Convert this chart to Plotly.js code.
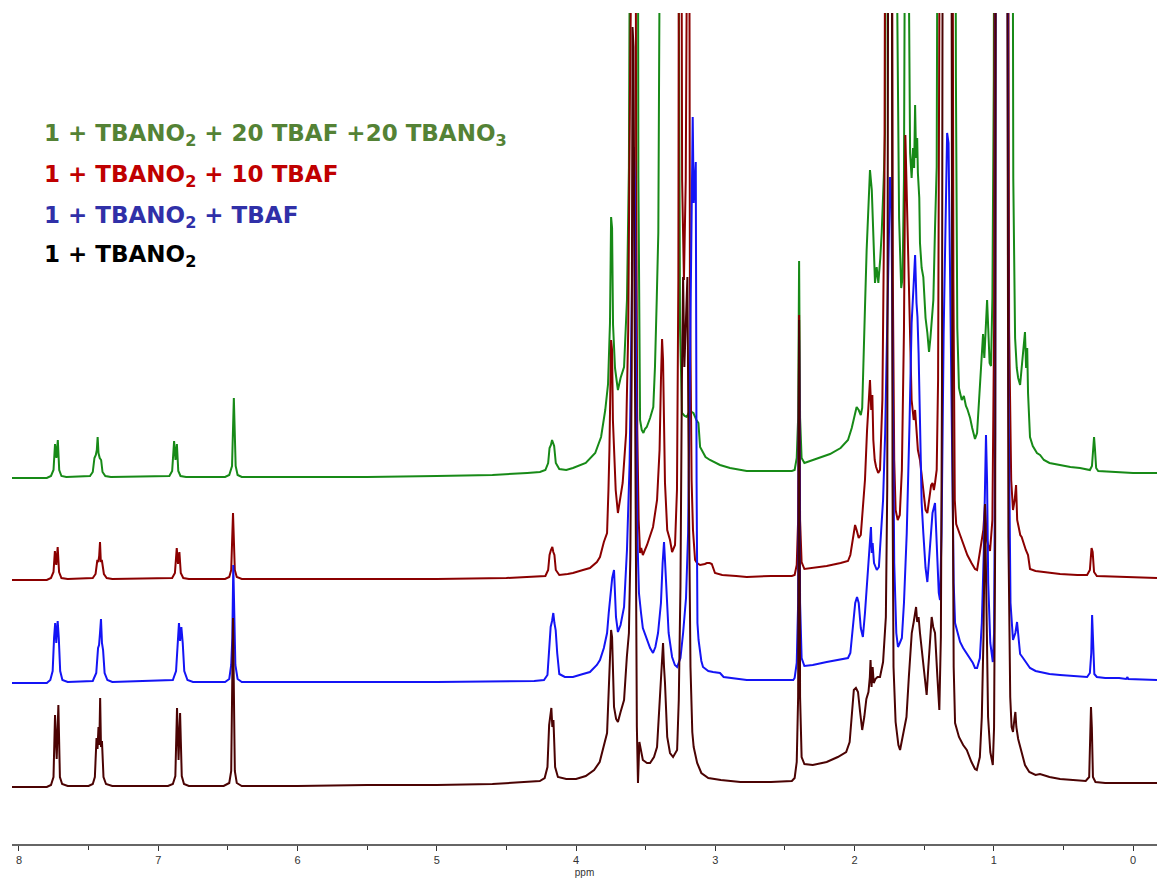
<!DOCTYPE html>
<html>
<head>
<meta charset="utf-8">
<script src="https://cdn.plot.ly/plotly-3.0.1.min.js"></script>
<style>
  html, body { margin: 0; padding: 0; background: #ffffff; }
  #chart { width: 1157px; height: 882px; }
</style>
</head>
<body>
<div id="chart"></div>
<script>
// ---------------- DATA (ppm, intensity above each trace's own baseline) ----------------
const seriesNames = [
  "1 + TBANO<sub>2</sub> + 20 TBAF +20 TBANO<sub>3</sub>",
  "1 + TBANO<sub>2</sub> + 10 TBAF",
  "1 + TBANO<sub>2</sub> + TBAF",
  "1 + TBANO<sub>2</sub>"
];

const xTickValues = [8, 7, 6, 5, 4, 3, 2, 1, 0];
const xAxisLabel = "ppm";

// 1 + TBANO2 + 20 TBAF + 20 TBANO3 (green, top)
const spectrumGreen = [
[8.05,0],[7.80,0],[7.77,2],[7.752,8],[7.741,34],[7.731,20],[7.721,38],[7.711,8],[7.695,2],[7.66,1],
[7.49,2],[7.47,6],[7.458,20],[7.448,23],[7.441,28],[7.435,41],[7.429,25],[7.42,20],[7.41,18],[7.40,6],[7.38,2],[7.34,1],
[6.92,2],[6.90,7],[6.886,37],[6.876,18],[6.866,34],[6.856,7],[6.84,2],[6.80,1],
[6.52,1],[6.49,3],[6.47,12],[6.457,80],[6.444,12],[6.43,3],[6.40,1],
[6.0,1],[5.5,1],[5.0,2],[4.6,3],[4.35,5],[4.259,6],[4.22,8],[4.20,15],[4.19,30],[4.18,33],[4.172,38],[4.165,35],[4.157,32],[4.145,15],[4.12,9],[4.07,8],[4.022,10],[3.93,15],[3.862,25],[3.82,41],[3.79,68],[3.77,94],[3.756,155],[3.748,261],[3.741,250],[3.734,153],[3.72,110],[3.706,95],[3.699,88],[3.68,100],[3.655,111],[3.634,178],[3.62,311],[3.612,600],[3.605,1000],[3.56,1000],[3.552,300],[3.54,58],[3.528,48],[3.516,45],[3.505,49],[3.492,51],[3.468,60],[3.445,71],[3.433,111],[3.42,180],[3.409,245],[3.40,500],[3.39,1000],[3.275,1000],[3.262,400],[3.253,150],[3.239,65],[3.22,62],[3.205,61],[3.19,66],[3.181,68],[3.169,66],[3.157,65],[3.135,58],[3.121,55],[3.109,31],[3.07,21],[3.038,18],[2.966,13],[2.894,10],[2.774,7],[2.6,7],[2.45,7],
[2.43,8],[2.415,20],[2.405,60],[2.398,217],[2.391,60],[2.38,20],[2.36,15],[2.30,18],[2.176,24],[2.10,30],[2.047,38],[2.02,50],[2.0,62],[1.985,71],[1.97,68],[1.955,63],[1.945,70],[1.935,111],[1.925,170],[1.913,228],[1.90,280],[1.889,308],[1.876,288],[1.865,245],[1.853,195],[1.841,211],[1.829,195],[1.815,220],[1.805,245],[1.79,300],[1.781,345],[1.774,600],[1.769,1000],[1.705,1000],[1.695,500],[1.68,260],[1.665,190],[1.655,200],[1.645,300],[1.637,600],[1.63,1000],[1.616,1000],[1.61,500],[1.601,325],[1.59,300],[1.58,330],[1.572,310],[1.565,373],[1.558,320],[1.55,340],[1.545,305],[1.535,280],[1.53,235],[1.518,210],[1.506,201],[1.49,160],[1.477,145],[1.465,126],[1.455,140],[1.445,160],[1.434,178],[1.422,250],[1.41,311],[1.404,600],[1.398,1000],[1.28,1000],[1.272,400],[1.262,150],[1.25,90],[1.242,85],[1.23,78],[1.215,82],[1.2,72],[1.19,69],[1.17,60],[1.155,50],[1.14,42],[1.135,39],[1.12,45],[1.11,70],[1.099,93],[1.09,110],[1.077,144],[1.068,120],[1.06,150],[1.048,178],[1.04,150],[1.03,115],[1.02,112],[1.01,180],[1.0,400],[0.993,1000],[0.87,1000],[0.86,300],[0.847,140],[0.835,110],[0.825,100],[0.811,93],[0.80,110],[0.79,125],[0.782,135],[0.776,146],[0.768,110],[0.76,130],[0.754,85],[0.745,60],[0.74,41],[0.72,32],[0.69,25],[0.668,23],[0.64,18],[0.60,15],[0.524,13],[0.45,11],[0.381,10],[0.31,8],[0.295,12],[0.285,35],[0.280,41],[0.274,30],[0.265,10],[0.25,7],[0.1,6],[0.0,5],[-0.172,5]
];

// 1 + TBANO2 + 10 TBAF (red)
const spectrumRed = [
[8.05,0],[7.80,0],[7.77,2],[7.752,8],[7.742,29],[7.732,15],[7.722,33],[7.712,8],[7.695,2],[7.65,1],
[7.47,2],[7.45,6],[7.437,20],[7.43,18],[7.424,24],[7.418,38],[7.412,18],[7.405,20],[7.39,6],[7.37,2],[7.33,1],
[6.90,2],[6.88,7],[6.867,32],[6.858,16],[6.848,28],[6.838,7],[6.82,2],[6.78,1],
[6.52,1],[6.49,3],[6.476,10],[6.463,67],[6.450,10],[6.436,3],[6.40,1],
[6.0,1],[5.0,1],[4.5,2],[4.3,3],[4.22,4],[4.20,10],[4.19,25],[4.18,30],[4.17,33],[4.163,28],[4.155,25],[4.145,10],[4.12,5],[4.06,6],[4.022,7],[3.95,10],[3.90,12],[3.85,18],[3.828,23],[3.80,38],[3.777,47],[3.767,90],[3.760,130],[3.748,240],[3.741,230],[3.735,160],[3.727,130],[3.715,90],[3.699,67],[3.685,80],[3.665,97],[3.64,147],[3.625,250],[3.612,500],[3.605,1000],[3.575,1000],[3.568,400],[3.56,150],[3.55,60],[3.54,27],[3.532,32],[3.52,25],[3.49,35],[3.468,45],[3.447,53],[3.418,80],[3.40,130],[3.39,200],[3.382,241],[3.375,220],[3.361,97],[3.345,50],[3.325,40],[3.31,28],[3.289,35],[3.275,90],[3.265,300],[3.258,1000],[3.248,1000],[3.238,400],[3.225,300],[3.212,400],[3.203,1000],[3.190,1000],[3.182,300],[3.17,100],[3.16,50],[3.145,20],[3.131,17],[3.109,15],[3.075,16],[3.06,17],[3.04,17],[3.025,16],[3.002,7],[2.95,5],[2.85,4],[2.774,3],[2.6,4],[2.45,4],
[2.43,5],[2.415,15],[2.405,60],[2.398,265],[2.391,60],[2.38,18],[2.36,11],[2.3,12],[2.2,14],[2.1,17],[2.047,19],[2.03,25],[2.01,45],[1.996,55],[1.985,50],[1.97,42],[1.955,45],[1.94,73],[1.925,100],[1.91,150],[1.895,180],[1.889,200],[1.88,170],[1.872,185],[1.865,140],[1.855,120],[1.845,113],[1.83,107],[1.817,110],[1.80,180],[1.785,400],[1.775,1000],[1.735,1000],[1.725,300],[1.715,120],[1.705,70],[1.69,60],[1.675,65],[1.66,110],[1.645,250],[1.635,445],[1.628,400],[1.62,340],[1.612,300],[1.60,230],[1.59,180],[1.575,160],[1.565,170],[1.555,150],[1.545,130],[1.53,120],[1.515,100],[1.506,87],[1.49,70],[1.477,67],[1.465,80],[1.45,95],[1.44,97],[1.43,90],[1.422,97],[1.41,110],[1.40,200],[1.39,500],[1.38,1000],[1.30,1000],[1.29,300],[1.28,80],[1.27,56],[1.242,45],[1.22,37],[1.19,25],[1.16,17],[1.135,11],[1.12,10],[1.10,30],[1.085,40],[1.075,50],[1.063,76],[1.05,40],[1.04,35],[1.027,29],[1.01,60],[0.998,250],[0.99,1000],[0.90,1000],[0.89,250],[0.875,100],[0.862,70],[0.85,80],[0.84,95],[0.832,60],[0.82,52],[0.81,45],[0.80,43],[0.79,38],[0.78,35],[0.77,30],[0.754,25],[0.74,11],[0.70,9],[0.65,8],[0.524,6],[0.40,5],[0.33,5],[0.31,10],[0.298,32],[0.29,28],[0.28,8],[0.26,4],[0.1,3],[0.0,3],[-0.172,2]
];

// 1 + TBANO2 + TBAF (blue)
const spectrumBlue = [
[8.05,0],[7.80,0],[7.775,3],[7.758,12],[7.748,45],[7.740,60],[7.732,40],[7.722,62],[7.714,45],[7.704,12],[7.688,3],[7.65,1],
[7.47,2],[7.445,10],[7.432,35],[7.425,38],[7.418,50],[7.411,64],[7.404,40],[7.396,33],[7.385,10],[7.365,3],[7.33,1],
[6.895,3],[6.872,12],[6.860,40],[6.851,60],[6.843,42],[6.834,56],[6.824,40],[6.813,12],[6.79,3],[6.75,1],
[6.52,1],[6.49,4],[6.476,18],[6.468,45],[6.461,118],[6.454,45],[6.446,18],[6.43,4],[6.40,1],
[6.0,1],[5.0,1],[4.3,2],[4.23,3],[4.205,8],[4.192,30],[4.182,56],[4.172,62],[4.163,70],[4.155,60],[4.146,53],[4.135,30],[4.12,9],[4.08,6],[4.022,6],[3.95,9],[3.90,11],[3.85,18],[3.828,23],[3.80,35],[3.777,50],[3.765,70],[3.756,83],[3.74,105],[3.727,113],[3.72,95],[3.713,66],[3.699,51],[3.68,58],[3.655,76],[3.634,133],[3.615,220],[3.60,380],[3.585,536],[3.578,500],[3.57,300],[3.56,150],[3.548,90],[3.54,76],[3.533,70],[3.52,55],[3.49,43],[3.468,35],[3.447,30],[3.43,36],[3.411,50],[3.39,80],[3.378,120],[3.368,141],[3.36,120],[3.35,96],[3.335,50],[3.31,26],[3.29,18],[3.274,16],[3.25,25],[3.231,50],[3.21,85],[3.195,150],[3.18,330],[3.17,480],[3.162,566],[3.155,480],[3.148,500],[3.140,521],[3.134,200],[3.128,60],[3.12,43],[3.10,22],[3.088,16],[3.05,12],[3.016,11],[2.966,10],[2.94,6],[2.85,4],[2.774,3],[2.6,3],[2.44,3],
[2.43,5],[2.415,20],[2.405,80],[2.398,343],[2.391,80],[2.38,25],[2.36,17],[2.3,18],[2.2,21],[2.1,24],[2.047,25],[2.03,30],[2.01,55],[1.995,80],[1.982,86],[1.97,80],[1.955,55],[1.94,46],[1.925,70],[1.905,110],[1.89,130],[1.882,156],[1.876,130],[1.87,140],[1.86,120],[1.84,113],[1.825,116],[1.81,150],[1.795,183],[1.78,250],[1.768,350],[1.757,450],[1.745,506],[1.735,480],[1.725,300],[1.715,120],[1.70,50],[1.688,36],[1.675,40],[1.66,45],[1.645,80],[1.625,150],[1.605,260],[1.59,360],[1.575,400],[1.565,428],[1.555,380],[1.548,366],[1.540,330],[1.530,240],[1.518,180],[1.506,150],[1.49,115],[1.477,101],[1.46,130],[1.44,170],[1.422,180],[1.41,140],[1.395,90],[1.386,83],[1.375,150],[1.36,350],[1.345,500],[1.335,550],[1.325,540],[1.315,420],[1.30,200],[1.288,100],[1.278,60],[1.26,50],[1.242,41],[1.22,35],[1.19,29],[1.15,20],[1.135,15],[1.12,15],[1.10,25],[1.086,60],[1.072,130],[1.063,200],[1.056,248],[1.048,200],[1.04,100],[1.025,40],[1.007,21],[0.998,50],[0.99,250],[0.984,1000],[0.905,1000],[0.895,300],[0.88,80],[0.862,43],[0.845,50],[0.833,61],[0.822,40],[0.811,29],[0.79,25],[0.776,22],[0.74,15],[0.70,12],[0.668,11],[0.60,9],[0.524,8],[0.45,7],[0.38,6],[0.33,6],[0.31,10],[0.30,30],[0.294,68],[0.287,30],[0.278,9],[0.26,6],[0.2,5],[0.10,5],[0.05,4],[0.04,6],[0.035,4],[-0.172,3]
];

// 1 + TBANO2 (dark brown, bottom)
const spectrumDark = [
[8.05,0],[7.80,0],[7.77,2],[7.752,10],[7.741,72],[7.729,28],[7.717,82],[7.706,10],[7.69,3],[7.65,1],
[7.50,1],[7.47,3],[7.455,10],[7.443,49],[7.436,38],[7.429,60],[7.423,42],[7.417,89],[7.411,40],[7.404,46],[7.393,10],[7.375,3],[7.33,1],
[6.93,1],[6.895,3],[6.877,11],[6.865,79],[6.854,27],[6.843,74],[6.831,11],[6.815,3],[6.78,1],
[6.53,1],[6.49,4],[6.476,16],[6.463,169],[6.450,16],[6.436,4],[6.40,1],
[6.0,1],[5.5,2],[5.0,2],[4.6,3],[4.35,5],[4.26,6],[4.225,9],[4.205,20],[4.193,62],[4.186,70],[4.177,79],[4.170,60],[4.162,67],[4.150,20],[4.13,10],[4.07,8],[4.0,8],[3.93,11],[3.87,17],[3.83,25],[3.80,42],[3.777,54],[3.763,104],[3.748,157],[3.741,150],[3.733,110],[3.727,80],[3.712,68],[3.699,65],[3.68,75],[3.655,87],[3.635,130],[3.620,154],[3.61,230],[3.60,420],[3.594,760],[3.587,740],[3.58,500],[3.572,200],[3.563,60],[3.555,4],[3.545,45],[3.52,27],[3.49,24],[3.468,24],[3.44,30],[3.418,40],[3.397,87],[3.385,120],[3.375,144],[3.368,120],[3.361,104],[3.345,50],[3.325,34],[3.303,30],[3.274,37],[3.262,87],[3.25,200],[3.240,400],[3.231,510],[3.222,420],[3.212,470],[3.200,510],[3.190,300],[3.178,120],[3.165,55],[3.155,40],[3.13,24],[3.10,14],[3.05,9],[2.96,7],[2.82,5],[2.6,5],[2.45,6],
[2.43,9],[2.415,25],[2.405,90],[2.398,467],[2.391,90],[2.38,30],[2.36,23],[2.3,22],[2.2,25],[2.12,30],[2.06,35],[2.035,45],[2.015,85],[2.005,97],[1.99,99],[1.975,95],[1.96,75],[1.945,57],[1.93,70],[1.915,88],[1.90,95],[1.89,110],[1.885,127],[1.878,100],[1.87,120],[1.862,104],[1.85,108],[1.835,110],[1.817,110],[1.795,125],[1.775,170],[1.765,300],[1.757,1000],[1.733,1000],[1.727,300],[1.72,120],[1.705,65],[1.685,42],[1.673,37],[1.655,50],[1.627,70],[1.61,110],[1.589,154],[1.575,165],[1.565,175],[1.558,180],[1.55,165],[1.540,170],[1.530,154],[1.506,120],[1.49,100],[1.482,92],[1.47,120],[1.455,160],[1.446,170],[1.435,160],[1.422,154],[1.405,110],[1.391,77],[1.380,150],[1.372,400],[1.366,1000],[1.305,1000],[1.298,400],[1.288,120],[1.278,64],[1.25,50],[1.22,42],[1.194,37],[1.16,25],[1.135,18],[1.122,17],[1.10,30],[1.086,70],[1.074,150],[1.063,283],[1.052,150],[1.041,70],[1.025,35],[1.007,22],[0.998,60],[0.99,250],[0.985,1000],[0.905,1000],[0.895,250],[0.882,90],[0.872,60],[0.862,55],[0.852,68],[0.845,75],[0.838,60],[0.825,48],[0.81,40],[0.79,28],[0.776,22],[0.745,15],[0.70,12],[0.668,13],[0.60,10],[0.524,8],[0.45,7],[0.38,6],[0.34,6],[0.315,10],[0.302,80],[0.296,60],[0.288,10],[0.27,5],[0.2,4],[0.1,4],[0.0,4],[-0.172,4]
];

// ---------------- STYLE / LAYOUT ----------------
const spectra = [spectrumGreen, spectrumRed, spectrumBlue, spectrumDark];
const lineColors = ["#178a17", "#8b0000", "#1414f5", "#4b0303"];
const labelColors = ["#548235", "#c00000", "#3030a8", "#000000"];
const stackOffsets = [366, 264, 161, 57];      // vertical stacking of the four spectra
const labelY = [0.853, 0.804, 0.755, 0.707];   // paper coords of label rows

const traces = spectra.map((pts, i) => ({
  type: "scatter",
  mode: "lines",
  x: pts.map(p => p[0]),
  y: pts.map(p => p[1] + stackOffsets[i]),
  line: { color: lineColors[i], width: 2 },
  hoverinfo: "skip",
  showlegend: false
}));

const annotations = seriesNames.map((t, i) => ({
  xref: "paper", yref: "paper",
  x: 0.0262, y: labelY[i],
  xanchor: "left", yanchor: "middle",
  text: "<b>" + t + "</b>",
  showarrow: false,
  font: { family: "DejaVu Sans, Arial, sans-serif", size: 23, color: labelColors[i] }
}));

const layout = {
  width: 1157, height: 882,
  margin: { l: 12, r: 0, t: 13, b: 38 },
  paper_bgcolor: "#ffffff",
  plot_bgcolor: "#ffffff",
  showlegend: false,
  xaxis: {
    range: [8.05, -0.172],
    tickmode: "array",
    tickvals: xTickValues,
    ticktext: xTickValues.map(String),
    ticks: "outside",
    ticklen: 5,
    tickwidth: 1,
    tickcolor: "#333333",
    showline: true,
    linecolor: "#666666",
    linewidth: 2,
    showgrid: false,
    zeroline: false,
    minor: { dtick: 0.5, tick0: 0, ticks: "outside", ticklen: 4, tickcolor: "#333333", showgrid: false },
    tickfont: { family: "Liberation Sans, Arial, sans-serif", size: 11, color: "#333333" },
    title: { text: xAxisLabel, font: { family: "Liberation Sans, Arial, sans-serif", size: 10, color: "#333333" }, standoff: 4 },
    fixedrange: true
  },
  yaxis: {
    range: [0, 831],
    visible: false,
    showgrid: false,
    zeroline: false,
    fixedrange: true
  },
  annotations: annotations
};

Plotly.newPlot("chart", traces, layout, { displayModeBar: false, staticPlot: true });
</script>
</body>
</html>
